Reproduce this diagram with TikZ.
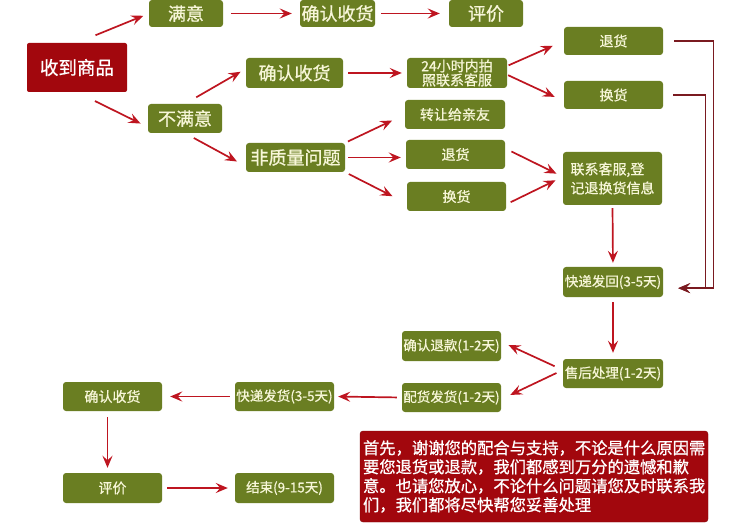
\documentclass[tikz,border=0pt]{standalone}
\usepackage{fontspec}
\newfontfamily\cjk{Noto Sans CJK SC}[FakeBold=0.8]
\usetikzlibrary{arrows.meta}
\definecolor{boxgreen}{HTML}{6A7E22}
\definecolor{boxtext}{HTML}{F7F6D8}
\definecolor{boxred}{HTML}{A2070D}
\definecolor{arrred}{HTML}{BE1520}
\definecolor{railred}{HTML}{7A1A20}

\begin{document}
\begin{tikzpicture}[x=1pt, y=-1pt,
    green/.style={fill=boxgreen, text=boxtext, rounded corners=3pt, inner sep=0pt, minimum height=29pt},
    big/.style={green, font=\cjk\fontsize{18}{20}\selectfont},
    small/.style={green, minimum width=99pt, font=\cjk\fontsize{14}{16}\selectfont},
    days/.style={small, font=\cjk\fontsize{13.5}{16}\selectfont},
    arr/.style={draw=arrred, line width=1.7pt, -{Stealth[length=12pt,width=10pt,inset=4.5pt]}},
    rail/.style={arr, draw=railred, line width=1.4pt}]
\useasboundingbox (0,0) rectangle (748,524);

\node[fill=boxred, text=white, rounded corners=2pt, minimum width=100pt, minimum height=49pt,
      font=\cjk\fontsize{18.5}{20}\selectfont] (shou) at (77,67.5) {收到商品};
\node[big, minimum width=74pt, minimum height=27pt] (manyi) at (186,13.5) {满意};
\node[big, minimum width=75pt, minimum height=27pt] (queren1) at (337.5,13.5) {确认收货};
\node[big, minimum width=74pt, minimum height=27pt] (pingjia1) at (486,13.5) {评价};
\node[big, minimum width=97pt, minimum height=30pt] (queren2) at (294.5,73) {确认收货};
\node[big, minimum width=74pt] (buman) at (185,118.5) {不满意};
\node[big, minimum width=99pt] (feizl) at (295.5,157.5) {非质量问题};
\node[small, minimum width=100pt, minimum height=30pt, align=center,
      font=\cjk\fontsize{14}{12.5}\selectfont] (h24) at (457,73) {24小时内拍\\照联系客服};
\node[small, minimum height=28pt] (tui1) at (613.5,41) {退货};
\node[small, minimum height=28pt] (huan1) at (613.5,95) {换货};
\node[small, minimum width=100pt] (zhuan) at (455,114.5) {转让给亲友};
\node[small] (tui2) at (455.5,154.5) {退货};
\node[small] (huan2) at (456.5,196.5) {换货};
\node[small, minimum height=53pt, align=left,
      font=\cjk\fontsize{14}{19}\selectfont] (lianxi) at (612.5,178.5) {联系客服,登\\记退换货信息};
\node[days, minimum width=100pt, minimum height=30pt] (kdfh) at (613,282) {快递发回(3-5天)};
\node[days, minimum width=100pt] (shouhou) at (613,373.5) {售后处理(1-2天)};
\node[days, minimum height=30pt] (tuikuan) at (451.5,346) {确认退款(1-2天)};
\node[days] (peihuo) at (451.5,397.5) {配货发货(1-2天)};
\node[days] (kdfahuo) at (284.5,396.5) {快递发货(3-5天)};
\node[small] (queren3) at (112.5,396.5) {确认收货};
\node[small, minimum height=30pt] (pingjia3) at (112.5,488) {评价};
\node[days, minimum height=30pt] (jieshu) at (284.5,488) {结束(9-15天)};
\node[fill=boxred, draw=boxred!80!black, text=white, rounded corners=3pt, minimum width=348pt,
      minimum height=91pt, text width=342pt, inner sep=3pt, align=left,
      font=\cjk\fontsize{16.3}{19}\selectfont] (note) at (534,476.5)
      {首先，谢谢您的配合与支持，不论是什么原因需\\要您退货或退款，我们都感到万分的遗憾和歉\\意。也请您放心，不论什么问题请您及时联系我\\们，我们都将尽快帮您妥善处理};

\coordinate (railA) at (713.5,0);
\coordinate (railB) at (705.5,0);

\draw[arr, shorten <=20pt, shorten >=6pt] (shou.north) -- (manyi.west);
\draw[arr, shorten <=20pt, shorten >=8pt] (shou.south) -- (buman.193);
\draw[arr, shorten <=8pt, shorten >=8pt] (manyi.east) -- (queren1.west);
\draw[arr, shorten <=6pt, shorten >=9pt] (queren1.east) -- (pingjia1.west);
\draw[arr, shorten <=13pt, shorten >=6pt] (buman.north) -- (queren2.175);
\draw[arr, shorten <=10pt, shorten >=10pt] (buman.south) -- (feizl.190);
\draw[arr, shorten <=5pt, shorten >=5pt] (queren2.east) -- (h24.west);
\draw[arr, shorten <=1.5pt, shorten >=12pt] (h24.8) -- (tui1.west);
\draw[arr, shorten <=1pt, shorten >=10pt] (h24.-2) -- (huan1.187);
\draw[arr, shorten <=3pt, shorten >=14pt] (feizl.north east) -- (zhuan.west);
\draw[arr, shorten <=3pt, shorten >=5pt] (feizl.east) -- (feizl.east -| tui2.west);
\draw[arr, shorten <=4pt, shorten >=16pt] (feizl.south east) -- (huan2.188);
\draw[arr, shorten <=7pt, shorten >=7pt] (tui2.7) -- (lianxi.178);
\draw[arr, shorten <=5pt, shorten >=8pt] (huan2.-9) -- (lianxi.178);
\draw[arr, shorten <=3pt, shorten >=4pt] (lianxi.south) -- (kdfh.north);
\draw[rail, shorten <=11pt, shorten >=15pt] (tui1.east) -- (tui1.east -| railA) |- (kdfh.-7);
\draw[rail, shorten <=10pt, shorten >=15pt] (huan1.east) -- (huan1.east -| railB) |- (kdfh.-7);
\draw[arr, shorten <=5pt, shorten >=6pt] (kdfh.south) -- (shouhou.north);
\draw[arr, shorten <=9pt, shorten >=8pt] (shouhou.176) -- (tuikuan.5);
\draw[arr, shorten <=7pt, shorten >=10pt] (shouhou.176) -- (peihuo.-2);
\draw[arr, shorten <=5pt, shorten >=4pt] (peihuo.west) -- (kdfahuo.east);
\draw[arr, shorten <=5pt, shorten >=8pt] (kdfahuo.west) -- (queren3.east);
\draw[arr, shorten <=6pt, shorten >=5pt] ([xshift=-5pt]queren3.south) -- ([xshift=-5pt]pingjia3.north);
\draw[arr, shorten <=5pt, shorten >=7pt] (pingjia3.east) -- (jieshu.west);
\end{tikzpicture}
\end{document}
